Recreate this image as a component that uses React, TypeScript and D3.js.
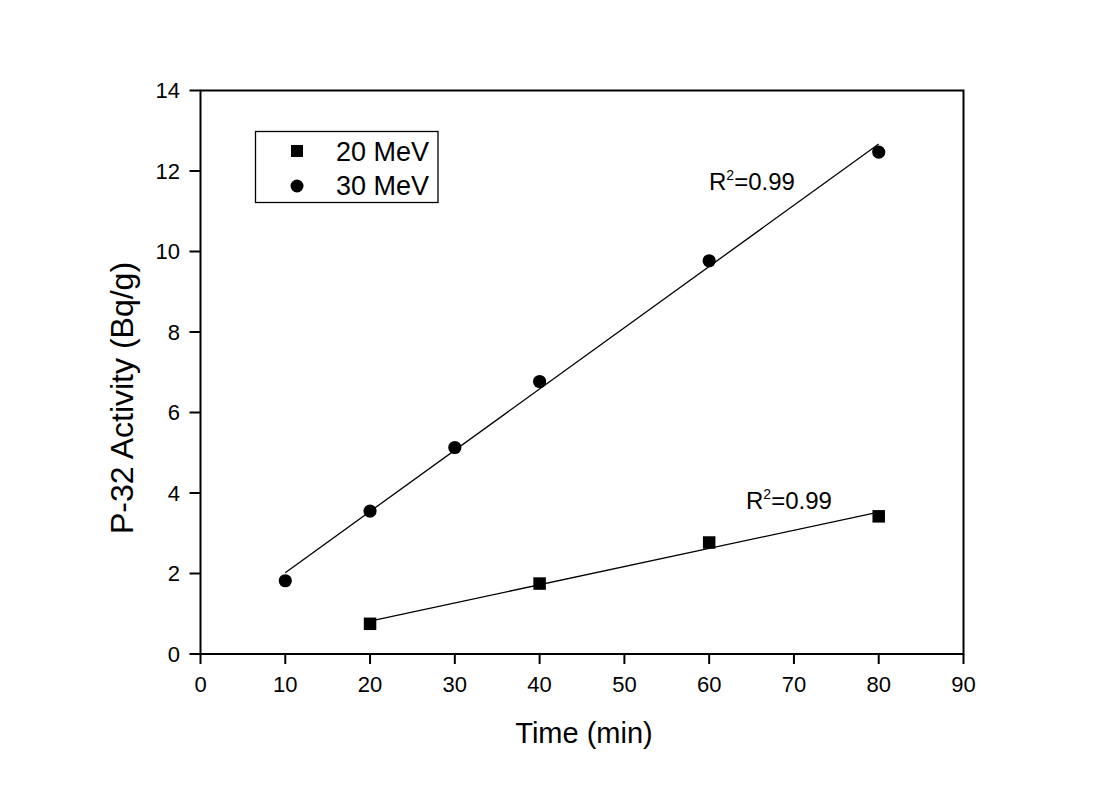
import React from "react";
import * as d3 from "d3";

const xTicks = [0, 10, 20, 30, 40, 50, 60, 70, 80, 90];
const yTicks = [0, 2, 4, 6, 8, 10, 12, 14];

const time20 = [20, 40, 60, 80];
const act20 = [0.75, 1.75, 2.77, 3.42];
const time30 = [10, 20, 30, 40, 60, 80];
const act30 = [1.82, 3.55, 5.13, 6.77, 9.77, 12.47];

const seriesNames = ["20 MeV", "30 MeV"];
const r2Labels = ["0.99", "0.99"];

function fit(xs: number[], ys: number[]) {
  const mx = d3.mean(xs)!;
  const my = d3.mean(ys)!;
  let sxy = 0, sxx = 0;
  xs.forEach((x, i) => { sxy += (x - mx) * (ys[i] - my); sxx += (x - mx) ** 2; });
  const b = sxy / sxx;
  const a = my - b * mx;
  return (x: number) => a + b * x;
}

const W = 1119, H = 785;
const L = 200.5, R = 963.5, T = 90.5, B = 654;
const font = "'Liberation Sans', Arial, sans-serif";

export default function App() {
  const x = d3.scaleLinear().domain([0, 90]).range([L, R]);
  const y = d3.scaleLinear().domain([0, 14]).range([B, T]);
  const f20 = fit(time20, act20);
  const f30 = fit(time30, act30);
  const line = d3.line<[number, number]>().x(d => x(d[0])).y(d => y(d[1]));
  const x20 = d3.extent(time20) as [number, number];
  const x30 = d3.extent(time30) as [number, number];
  const sq = 12.5;
  return (
    <svg width={W} height={H} style={{ position: "absolute", left: 0, top: 0, background: "#fff" }} fontFamily={font}>
      <rect x={0} y={0} width={W} height={H} fill="#fff" />
      {/* fit lines */}
      <path d={line(x30.map(v => [v, f30(v)] as [number, number]))!} stroke="#000" strokeWidth={1.3} fill="none" />
      <path d={line(x20.map(v => [v, f20(v)] as [number, number]))!} stroke="#000" strokeWidth={1.3} fill="none" />
      {/* markers */}
      {time20.map((t, i) => (
        <rect key={"s" + i} x={x(t) - sq / 2} y={y(act20[i]) - sq / 2} width={sq} height={sq} fill="#000" />
      ))}
      {time30.map((t, i) => (
        <circle key={"c" + i} cx={x(t)} cy={y(act30[i])} r={6.6} fill="#000" />
      ))}
      {/* frame */}
      <rect x={L} y={T} width={R - L} height={B - T} fill="none" stroke="#000" strokeWidth={2} />
      {/* x ticks */}
      {xTicks.map(t => (
        <g key={"xt" + t}>
          <line x1={x(t)} x2={x(t)} y1={B} y2={B + 10} stroke="#000" strokeWidth={2} />
          <text x={x(t)} y={692} fontSize={22} textAnchor="middle" fill="#000">{t}</text>
        </g>
      ))}
      {yTicks.map(t => (
        <g key={"yt" + t}>
          <line x1={L - 11} x2={L} y1={y(t)} y2={y(t)} stroke="#000" strokeWidth={2} />
          <text x={180} y={y(t) + 7.5} fontSize={22} textAnchor="end" fill="#000">{t}</text>
        </g>
      ))}
      {/* axis titles */}
      <text x={(L + R) / 2 + 2} y={743} fontSize={29} textAnchor="middle" fill="#000">Time (min)</text>
      <text transform={`translate(133, 398) rotate(-90)`} fontSize={32} textAnchor="middle" fill="#000">P-32 Activity (Bq/g)</text>
      {/* R2 labels */}
      <text x={709} y={190} fontSize={24} fill="#000">R<tspan fontSize={14} dy={-10}>2</tspan><tspan dy={10}>={r2Labels[1]}</tspan></text>
      <text x={746} y={509} fontSize={24} fill="#000">R<tspan fontSize={14} dy={-10}>2</tspan><tspan dy={10}>={r2Labels[0]}</tspan></text>
      {/* legend */}
      <rect x={255.5} y={131.5} width={182.5} height={71} fill="#fff" stroke="#000" strokeWidth={1.3} />
      <rect x={297 - 6} y={151 - 6} width={12} height={12} fill="#000" />
      <text x={336} y={161} fontSize={27} fill="#000">{seriesNames[0]}</text>
      <circle cx={297} cy={186} r={6.5} fill="#000" />
      <text x={336} y={195} fontSize={27} fill="#000">{seriesNames[1]}</text>
    </svg>
  );
}
